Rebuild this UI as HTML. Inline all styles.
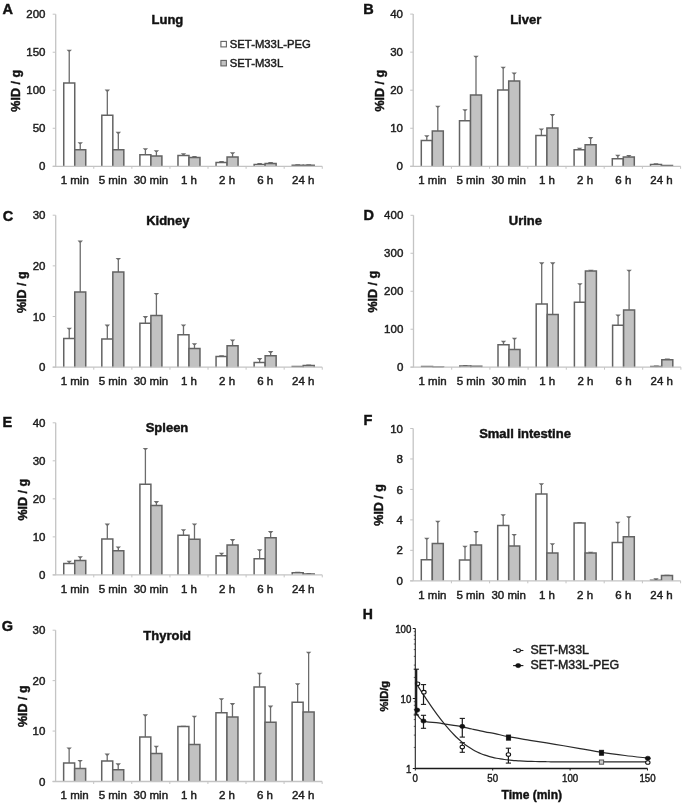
<!DOCTYPE html>
<html><head><meta charset="utf-8"><title>Biodistribution</title>
<style>
html,body{margin:0;padding:0;background:#fff;}
body{width:685px;height:806px;overflow:hidden;}
svg{display:block;font-family:"Liberation Sans", sans-serif;will-change:transform;}
text{stroke:#1c1c1c;stroke-width:0.45px;paint-order:stroke;}
</style></head>
<body>
<svg width="685" height="806" viewBox="0 0 685 806">
<rect width="685" height="806" fill="#fff"/>
<text x="2.4" y="14.2" font-size="14.5" font-weight="bold" fill="#111">A</text>
<text x="167.4" y="23.9" font-size="13" font-weight="bold" text-anchor="middle" fill="#111">Lung</text>
<text transform="translate(20,90.8) rotate(-90)" font-size="12.5" font-weight="bold" text-anchor="middle" fill="#111">%ID / g</text>
<line x1="52.7" y1="166.3" x2="55.7" y2="166.3" stroke="#c4c4c4" stroke-width="1"/>
<text x="45.5" y="170.4" font-size="11.5" text-anchor="end" fill="#1c1c1c">0</text>
<line x1="52.7" y1="128.28" x2="55.7" y2="128.28" stroke="#c4c4c4" stroke-width="1"/>
<text x="45.5" y="132.38" font-size="11.5" text-anchor="end" fill="#1c1c1c">50</text>
<line x1="52.7" y1="90.25" x2="55.7" y2="90.25" stroke="#c4c4c4" stroke-width="1"/>
<text x="45.5" y="94.35" font-size="11.5" text-anchor="end" fill="#1c1c1c">100</text>
<line x1="52.7" y1="52.22" x2="55.7" y2="52.22" stroke="#c4c4c4" stroke-width="1"/>
<text x="45.5" y="56.32" font-size="11.5" text-anchor="end" fill="#1c1c1c">150</text>
<line x1="52.7" y1="14.2" x2="55.7" y2="14.2" stroke="#c4c4c4" stroke-width="1"/>
<text x="45.5" y="18.3" font-size="11.5" text-anchor="end" fill="#1c1c1c">200</text>
<line x1="69.24" y1="50.4" x2="69.24" y2="83" stroke="#6c6c6c" stroke-width="1.3"/>
<path d="M66.54,49.65H71.94L70.14,51.5H68.34Z" fill="#6c6c6c"/>
<line x1="80.24" y1="142.9" x2="80.24" y2="149.7" stroke="#6c6c6c" stroke-width="1.3"/>
<path d="M77.54,142.15H82.94L81.14,144H79.34Z" fill="#6c6c6c"/>
<path d="M63.74,166.3V83H74.74V166.3" fill="#fff" stroke="#636363" stroke-width="1.5"/>
<path d="M74.74,166.3V149.7H85.74V166.3" fill="#c2c2c2" stroke="#636363" stroke-width="1.5"/>
<text x="74.74" y="184.2" font-size="11.5" text-anchor="middle" fill="#1c1c1c">1 min</text>
<line x1="107.32" y1="90.3" x2="107.32" y2="115.2" stroke="#6c6c6c" stroke-width="1.3"/>
<path d="M104.62,89.55H110.02L108.22,91.4H106.42Z" fill="#6c6c6c"/>
<line x1="118.32" y1="132.6" x2="118.32" y2="149.7" stroke="#6c6c6c" stroke-width="1.3"/>
<path d="M115.62,131.85H121.02L119.22,133.7H117.42Z" fill="#6c6c6c"/>
<path d="M101.82,166.3V115.2H112.82V166.3" fill="#fff" stroke="#636363" stroke-width="1.5"/>
<path d="M112.82,166.3V149.7H123.82V166.3" fill="#c2c2c2" stroke="#636363" stroke-width="1.5"/>
<text x="112.82" y="184.2" font-size="11.5" text-anchor="middle" fill="#1c1c1c">5 min</text>
<line x1="145.4" y1="149" x2="145.4" y2="154.8" stroke="#6c6c6c" stroke-width="1.3"/>
<path d="M142.7,148.25H148.1L146.3,150.1H144.5Z" fill="#6c6c6c"/>
<line x1="156.4" y1="151" x2="156.4" y2="156" stroke="#6c6c6c" stroke-width="1.3"/>
<path d="M153.7,150.25H159.1L157.3,152.1H155.5Z" fill="#6c6c6c"/>
<path d="M139.9,166.3V154.8H150.9V166.3" fill="#fff" stroke="#636363" stroke-width="1.5"/>
<path d="M150.9,166.3V156H161.9V166.3" fill="#c2c2c2" stroke="#636363" stroke-width="1.5"/>
<text x="150.9" y="184.2" font-size="11.5" text-anchor="middle" fill="#1c1c1c">30 min</text>
<line x1="183.48" y1="153.9" x2="183.48" y2="155.6" stroke="#6c6c6c" stroke-width="1.3"/>
<path d="M180.78,153.15H186.18L184.38,155H182.58Z" fill="#6c6c6c"/>
<line x1="194.48" y1="156.7" x2="194.48" y2="157.6" stroke="#6c6c6c" stroke-width="1.3"/>
<path d="M191.78,155.95H197.18L195.38,157.8H193.58Z" fill="#6c6c6c"/>
<path d="M177.98,166.3V155.6H188.98V166.3" fill="#fff" stroke="#636363" stroke-width="1.5"/>
<path d="M188.98,166.3V157.6H199.98V166.3" fill="#c2c2c2" stroke="#636363" stroke-width="1.5"/>
<text x="188.98" y="184.2" font-size="11.5" text-anchor="middle" fill="#1c1c1c">1 h</text>
<line x1="221.56" y1="161.8" x2="221.56" y2="162.5" stroke="#6c6c6c" stroke-width="1.3"/>
<path d="M218.86,161.05H224.26L222.46,162.9H220.66Z" fill="#6c6c6c"/>
<line x1="232.56" y1="153" x2="232.56" y2="157" stroke="#6c6c6c" stroke-width="1.3"/>
<path d="M229.86,152.25H235.26L233.46,154.1H231.66Z" fill="#6c6c6c"/>
<path d="M216.06,166.3V162.5H227.06V166.3" fill="#fff" stroke="#636363" stroke-width="1.5"/>
<path d="M227.06,166.3V157H238.06V166.3" fill="#c2c2c2" stroke="#636363" stroke-width="1.5"/>
<text x="227.06" y="184.2" font-size="11.5" text-anchor="middle" fill="#1c1c1c">2 h</text>
<line x1="259.64" y1="163.8" x2="259.64" y2="164.5" stroke="#6c6c6c" stroke-width="1.3"/>
<path d="M256.94,163.05H262.34L260.54,164.9H258.74Z" fill="#6c6c6c"/>
<line x1="270.64" y1="162.8" x2="270.64" y2="163.5" stroke="#6c6c6c" stroke-width="1.3"/>
<path d="M267.94,162.05H273.34L271.54,163.9H269.74Z" fill="#6c6c6c"/>
<path d="M254.14,166.3V164.5H265.14V166.3" fill="#fff" stroke="#636363" stroke-width="1.5"/>
<path d="M265.14,166.3V163.5H276.14V166.3" fill="#c2c2c2" stroke="#636363" stroke-width="1.5"/>
<text x="265.14" y="184.2" font-size="11.5" text-anchor="middle" fill="#1c1c1c">6 h</text>
<line x1="297.72" y1="165.1" x2="297.72" y2="165.2" stroke="#6c6c6c" stroke-width="1.3"/>
<path d="M295.02,164.35H300.42L298.62,166.2H296.82Z" fill="#6c6c6c"/>
<line x1="308.72" y1="165.1" x2="308.72" y2="165.2" stroke="#6c6c6c" stroke-width="1.3"/>
<path d="M306.02,164.35H311.42L309.62,166.2H307.82Z" fill="#6c6c6c"/>
<path d="M292.22,166.3V165.2H303.22V166.3" fill="#fff" stroke="#636363" stroke-width="1.5"/>
<path d="M303.22,166.3V165.2H314.22V166.3" fill="#c2c2c2" stroke="#636363" stroke-width="1.5"/>
<text x="303.22" y="184.2" font-size="11.5" text-anchor="middle" fill="#1c1c1c">24 h</text>
<line x1="55.7" y1="14.2" x2="55.7" y2="166.3" stroke="#c4c4c4" stroke-width="1.3"/>
<line x1="52.7" y1="166.3" x2="322.26" y2="166.3" stroke="#c4c4c4" stroke-width="1.3"/>
<line x1="93.78" y1="166.3" x2="93.78" y2="168.8" stroke="#c4c4c4" stroke-width="1"/>
<line x1="131.86" y1="166.3" x2="131.86" y2="168.8" stroke="#c4c4c4" stroke-width="1"/>
<line x1="169.94" y1="166.3" x2="169.94" y2="168.8" stroke="#c4c4c4" stroke-width="1"/>
<line x1="208.02" y1="166.3" x2="208.02" y2="168.8" stroke="#c4c4c4" stroke-width="1"/>
<line x1="246.1" y1="166.3" x2="246.1" y2="168.8" stroke="#c4c4c4" stroke-width="1"/>
<line x1="284.18" y1="166.3" x2="284.18" y2="168.8" stroke="#c4c4c4" stroke-width="1"/>
<line x1="322.26" y1="166.3" x2="322.26" y2="168.8" stroke="#c4c4c4" stroke-width="1"/>
<text x="363.3" y="14" font-size="14.5" font-weight="bold" fill="#111">B</text>
<text x="525.7" y="23.7" font-size="13" font-weight="bold" text-anchor="middle" fill="#111">Liver</text>
<text transform="translate(383.8,90.7) rotate(-90)" font-size="12.5" font-weight="bold" text-anchor="middle" fill="#111">%ID / g</text>
<line x1="410.2" y1="166.3" x2="413.2" y2="166.3" stroke="#c4c4c4" stroke-width="1"/>
<text x="403" y="170.4" font-size="11.5" text-anchor="end" fill="#1c1c1c">0</text>
<line x1="410.2" y1="128.25" x2="413.2" y2="128.25" stroke="#c4c4c4" stroke-width="1"/>
<text x="403" y="132.35" font-size="11.5" text-anchor="end" fill="#1c1c1c">10</text>
<line x1="410.2" y1="90.2" x2="413.2" y2="90.2" stroke="#c4c4c4" stroke-width="1"/>
<text x="403" y="94.3" font-size="11.5" text-anchor="end" fill="#1c1c1c">20</text>
<line x1="410.2" y1="52.15" x2="413.2" y2="52.15" stroke="#c4c4c4" stroke-width="1"/>
<text x="403" y="56.25" font-size="11.5" text-anchor="end" fill="#1c1c1c">30</text>
<line x1="410.2" y1="14.1" x2="413.2" y2="14.1" stroke="#c4c4c4" stroke-width="1"/>
<text x="403" y="18.2" font-size="11.5" text-anchor="end" fill="#1c1c1c">40</text>
<line x1="426.8" y1="135.9" x2="426.8" y2="140.5" stroke="#6c6c6c" stroke-width="1.3"/>
<path d="M424.1,135.15H429.5L427.7,137H425.9Z" fill="#6c6c6c"/>
<line x1="437.8" y1="106.5" x2="437.8" y2="130.9" stroke="#6c6c6c" stroke-width="1.3"/>
<path d="M435.1,105.75H440.5L438.7,107.6H436.9Z" fill="#6c6c6c"/>
<path d="M421.3,166.3V140.5H432.3V166.3" fill="#fff" stroke="#636363" stroke-width="1.5"/>
<path d="M432.3,166.3V130.9H443.3V166.3" fill="#c2c2c2" stroke="#636363" stroke-width="1.5"/>
<text x="432.3" y="184.2" font-size="11.5" text-anchor="middle" fill="#1c1c1c">1 min</text>
<line x1="465" y1="110" x2="465" y2="120.7" stroke="#6c6c6c" stroke-width="1.3"/>
<path d="M462.3,109.25H467.7L465.9,111.1H464.1Z" fill="#6c6c6c"/>
<line x1="476" y1="56.4" x2="476" y2="95" stroke="#6c6c6c" stroke-width="1.3"/>
<path d="M473.3,55.65H478.7L476.9,57.5H475.1Z" fill="#6c6c6c"/>
<path d="M459.5,166.3V120.7H470.5V166.3" fill="#fff" stroke="#636363" stroke-width="1.5"/>
<path d="M470.5,166.3V95H481.5V166.3" fill="#c2c2c2" stroke="#636363" stroke-width="1.5"/>
<text x="470.5" y="184.2" font-size="11.5" text-anchor="middle" fill="#1c1c1c">5 min</text>
<line x1="503.2" y1="67.5" x2="503.2" y2="89.9" stroke="#6c6c6c" stroke-width="1.3"/>
<path d="M500.5,66.75H505.9L504.1,68.6H502.3Z" fill="#6c6c6c"/>
<line x1="514.2" y1="73.2" x2="514.2" y2="80.9" stroke="#6c6c6c" stroke-width="1.3"/>
<path d="M511.5,72.45H516.9L515.1,74.3H513.3Z" fill="#6c6c6c"/>
<path d="M497.7,166.3V89.9H508.7V166.3" fill="#fff" stroke="#636363" stroke-width="1.5"/>
<path d="M508.7,166.3V80.9H519.7V166.3" fill="#c2c2c2" stroke="#636363" stroke-width="1.5"/>
<text x="508.7" y="184.2" font-size="11.5" text-anchor="middle" fill="#1c1c1c">30 min</text>
<line x1="541.4" y1="129.2" x2="541.4" y2="135.5" stroke="#6c6c6c" stroke-width="1.3"/>
<path d="M538.7,128.45H544.1L542.3,130.3H540.5Z" fill="#6c6c6c"/>
<line x1="552.4" y1="114.8" x2="552.4" y2="128" stroke="#6c6c6c" stroke-width="1.3"/>
<path d="M549.7,114.05H555.1L553.3,115.9H551.5Z" fill="#6c6c6c"/>
<path d="M535.9,166.3V135.5H546.9V166.3" fill="#fff" stroke="#636363" stroke-width="1.5"/>
<path d="M546.9,166.3V128H557.9V166.3" fill="#c2c2c2" stroke="#636363" stroke-width="1.5"/>
<text x="546.9" y="184.2" font-size="11.5" text-anchor="middle" fill="#1c1c1c">1 h</text>
<line x1="579.6" y1="148.5" x2="579.6" y2="149.7" stroke="#6c6c6c" stroke-width="1.3"/>
<path d="M576.9,147.75H582.3L580.5,149.6H578.7Z" fill="#6c6c6c"/>
<line x1="590.6" y1="137.8" x2="590.6" y2="144.8" stroke="#6c6c6c" stroke-width="1.3"/>
<path d="M587.9,137.05H593.3L591.5,138.9H589.7Z" fill="#6c6c6c"/>
<path d="M574.1,166.3V149.7H585.1V166.3" fill="#fff" stroke="#636363" stroke-width="1.5"/>
<path d="M585.1,166.3V144.8H596.1V166.3" fill="#c2c2c2" stroke="#636363" stroke-width="1.5"/>
<text x="585.1" y="184.2" font-size="11.5" text-anchor="middle" fill="#1c1c1c">2 h</text>
<line x1="617.8" y1="155.5" x2="617.8" y2="158.8" stroke="#6c6c6c" stroke-width="1.3"/>
<path d="M615.1,154.75H620.5L618.7,156.6H616.9Z" fill="#6c6c6c"/>
<line x1="628.8" y1="155.7" x2="628.8" y2="157" stroke="#6c6c6c" stroke-width="1.3"/>
<path d="M626.1,154.95H631.5L629.7,156.8H627.9Z" fill="#6c6c6c"/>
<path d="M612.3,166.3V158.8H623.3V166.3" fill="#fff" stroke="#636363" stroke-width="1.5"/>
<path d="M623.3,166.3V157H634.3V166.3" fill="#c2c2c2" stroke="#636363" stroke-width="1.5"/>
<text x="623.3" y="184.2" font-size="11.5" text-anchor="middle" fill="#1c1c1c">6 h</text>
<line x1="656" y1="164" x2="656" y2="164.4" stroke="#6c6c6c" stroke-width="1.3"/>
<path d="M653.3,163.25H658.7L656.9,165.1H655.1Z" fill="#6c6c6c"/>
<path d="M650.5,166.3V164.4H661.5V166.3" fill="#fff" stroke="#636363" stroke-width="1.5"/>
<path d="M661.5,166.3V165.4H672.5V166.3" fill="#c2c2c2" stroke="#636363" stroke-width="1.5"/>
<text x="661.5" y="184.2" font-size="11.5" text-anchor="middle" fill="#1c1c1c">24 h</text>
<line x1="413.2" y1="14.1" x2="413.2" y2="166.3" stroke="#c4c4c4" stroke-width="1.3"/>
<line x1="410.2" y1="166.3" x2="680.6" y2="166.3" stroke="#c4c4c4" stroke-width="1.3"/>
<line x1="451.4" y1="166.3" x2="451.4" y2="168.8" stroke="#c4c4c4" stroke-width="1"/>
<line x1="489.6" y1="166.3" x2="489.6" y2="168.8" stroke="#c4c4c4" stroke-width="1"/>
<line x1="527.8" y1="166.3" x2="527.8" y2="168.8" stroke="#c4c4c4" stroke-width="1"/>
<line x1="566" y1="166.3" x2="566" y2="168.8" stroke="#c4c4c4" stroke-width="1"/>
<line x1="604.2" y1="166.3" x2="604.2" y2="168.8" stroke="#c4c4c4" stroke-width="1"/>
<line x1="642.4" y1="166.3" x2="642.4" y2="168.8" stroke="#c4c4c4" stroke-width="1"/>
<line x1="680.6" y1="166.3" x2="680.6" y2="168.8" stroke="#c4c4c4" stroke-width="1"/>
<text x="2.8" y="220.7" font-size="14.5" font-weight="bold" fill="#111">C</text>
<text x="167.8" y="225.1" font-size="13" font-weight="bold" text-anchor="middle" fill="#111">Kidney</text>
<text transform="translate(26.3,292.2) rotate(-90)" font-size="12.5" font-weight="bold" text-anchor="middle" fill="#111">%ID / g</text>
<line x1="52.7" y1="367.2" x2="55.7" y2="367.2" stroke="#c4c4c4" stroke-width="1"/>
<text x="45.5" y="371.3" font-size="11.5" text-anchor="end" fill="#1c1c1c">0</text>
<line x1="52.7" y1="316.53" x2="55.7" y2="316.53" stroke="#c4c4c4" stroke-width="1"/>
<text x="45.5" y="320.63" font-size="11.5" text-anchor="end" fill="#1c1c1c">10</text>
<line x1="52.7" y1="265.87" x2="55.7" y2="265.87" stroke="#c4c4c4" stroke-width="1"/>
<text x="45.5" y="269.97" font-size="11.5" text-anchor="end" fill="#1c1c1c">20</text>
<line x1="52.7" y1="215.2" x2="55.7" y2="215.2" stroke="#c4c4c4" stroke-width="1"/>
<text x="45.5" y="219.3" font-size="11.5" text-anchor="end" fill="#1c1c1c">30</text>
<line x1="69.24" y1="328.4" x2="69.24" y2="338.5" stroke="#6c6c6c" stroke-width="1.3"/>
<path d="M66.54,327.65H71.94L70.14,329.5H68.34Z" fill="#6c6c6c"/>
<line x1="80.24" y1="241.3" x2="80.24" y2="291.9" stroke="#6c6c6c" stroke-width="1.3"/>
<path d="M77.54,240.55H82.94L81.14,242.4H79.34Z" fill="#6c6c6c"/>
<path d="M63.74,367.2V338.5H74.74V367.2" fill="#fff" stroke="#636363" stroke-width="1.5"/>
<path d="M74.74,367.2V291.9H85.74V367.2" fill="#c2c2c2" stroke="#636363" stroke-width="1.5"/>
<text x="74.74" y="385.1" font-size="11.5" text-anchor="middle" fill="#1c1c1c">1 min</text>
<line x1="107.32" y1="325.3" x2="107.32" y2="338.9" stroke="#6c6c6c" stroke-width="1.3"/>
<path d="M104.62,324.55H110.02L108.22,326.4H106.42Z" fill="#6c6c6c"/>
<line x1="118.32" y1="258.7" x2="118.32" y2="271.9" stroke="#6c6c6c" stroke-width="1.3"/>
<path d="M115.62,257.95H121.02L119.22,259.8H117.42Z" fill="#6c6c6c"/>
<path d="M101.82,367.2V338.9H112.82V367.2" fill="#fff" stroke="#636363" stroke-width="1.5"/>
<path d="M112.82,367.2V271.9H123.82V367.2" fill="#c2c2c2" stroke="#636363" stroke-width="1.5"/>
<text x="112.82" y="385.1" font-size="11.5" text-anchor="middle" fill="#1c1c1c">5 min</text>
<line x1="145.4" y1="316.8" x2="145.4" y2="323.2" stroke="#6c6c6c" stroke-width="1.3"/>
<path d="M142.7,316.05H148.1L146.3,317.9H144.5Z" fill="#6c6c6c"/>
<line x1="156.4" y1="293.7" x2="156.4" y2="315.4" stroke="#6c6c6c" stroke-width="1.3"/>
<path d="M153.7,292.95H159.1L157.3,294.8H155.5Z" fill="#6c6c6c"/>
<path d="M139.9,367.2V323.2H150.9V367.2" fill="#fff" stroke="#636363" stroke-width="1.5"/>
<path d="M150.9,367.2V315.4H161.9V367.2" fill="#c2c2c2" stroke="#636363" stroke-width="1.5"/>
<text x="150.9" y="385.1" font-size="11.5" text-anchor="middle" fill="#1c1c1c">30 min</text>
<line x1="183.48" y1="325.2" x2="183.48" y2="334.7" stroke="#6c6c6c" stroke-width="1.3"/>
<path d="M180.78,324.45H186.18L184.38,326.3H182.58Z" fill="#6c6c6c"/>
<line x1="194.48" y1="343.9" x2="194.48" y2="348.6" stroke="#6c6c6c" stroke-width="1.3"/>
<path d="M191.78,343.15H197.18L195.38,345H193.58Z" fill="#6c6c6c"/>
<path d="M177.98,367.2V334.7H188.98V367.2" fill="#fff" stroke="#636363" stroke-width="1.5"/>
<path d="M188.98,367.2V348.6H199.98V367.2" fill="#c2c2c2" stroke="#636363" stroke-width="1.5"/>
<text x="188.98" y="385.1" font-size="11.5" text-anchor="middle" fill="#1c1c1c">1 h</text>
<line x1="221.56" y1="356" x2="221.56" y2="356.5" stroke="#6c6c6c" stroke-width="1.3"/>
<path d="M218.86,355.25H224.26L222.46,357.1H220.66Z" fill="#6c6c6c"/>
<line x1="232.56" y1="340.2" x2="232.56" y2="345.7" stroke="#6c6c6c" stroke-width="1.3"/>
<path d="M229.86,339.45H235.26L233.46,341.3H231.66Z" fill="#6c6c6c"/>
<path d="M216.06,367.2V356.5H227.06V367.2" fill="#fff" stroke="#636363" stroke-width="1.5"/>
<path d="M227.06,367.2V345.7H238.06V367.2" fill="#c2c2c2" stroke="#636363" stroke-width="1.5"/>
<text x="227.06" y="385.1" font-size="11.5" text-anchor="middle" fill="#1c1c1c">2 h</text>
<line x1="259.64" y1="358.8" x2="259.64" y2="362.5" stroke="#6c6c6c" stroke-width="1.3"/>
<path d="M256.94,358.05H262.34L260.54,359.9H258.74Z" fill="#6c6c6c"/>
<line x1="270.64" y1="351.8" x2="270.64" y2="355.8" stroke="#6c6c6c" stroke-width="1.3"/>
<path d="M267.94,351.05H273.34L271.54,352.9H269.74Z" fill="#6c6c6c"/>
<path d="M254.14,367.2V362.5H265.14V367.2" fill="#fff" stroke="#636363" stroke-width="1.5"/>
<path d="M265.14,367.2V355.8H276.14V367.2" fill="#c2c2c2" stroke="#636363" stroke-width="1.5"/>
<text x="265.14" y="385.1" font-size="11.5" text-anchor="middle" fill="#1c1c1c">6 h</text>
<line x1="308.72" y1="365.2" x2="308.72" y2="365.4" stroke="#6c6c6c" stroke-width="1.3"/>
<path d="M306.02,364.45H311.42L309.62,366.3H307.82Z" fill="#6c6c6c"/>
<path d="M292.22,367.2V366.6H303.22V367.2" fill="#fff" stroke="#636363" stroke-width="1.5"/>
<path d="M303.22,367.2V365.4H314.22V367.2" fill="#c2c2c2" stroke="#636363" stroke-width="1.5"/>
<text x="303.22" y="385.1" font-size="11.5" text-anchor="middle" fill="#1c1c1c">24 h</text>
<line x1="55.7" y1="215.2" x2="55.7" y2="367.2" stroke="#c4c4c4" stroke-width="1.3"/>
<line x1="52.7" y1="367.2" x2="322.26" y2="367.2" stroke="#c4c4c4" stroke-width="1.3"/>
<line x1="93.78" y1="367.2" x2="93.78" y2="369.7" stroke="#c4c4c4" stroke-width="1"/>
<line x1="131.86" y1="367.2" x2="131.86" y2="369.7" stroke="#c4c4c4" stroke-width="1"/>
<line x1="169.94" y1="367.2" x2="169.94" y2="369.7" stroke="#c4c4c4" stroke-width="1"/>
<line x1="208.02" y1="367.2" x2="208.02" y2="369.7" stroke="#c4c4c4" stroke-width="1"/>
<line x1="246.1" y1="367.2" x2="246.1" y2="369.7" stroke="#c4c4c4" stroke-width="1"/>
<line x1="284.18" y1="367.2" x2="284.18" y2="369.7" stroke="#c4c4c4" stroke-width="1"/>
<line x1="322.26" y1="367.2" x2="322.26" y2="369.7" stroke="#c4c4c4" stroke-width="1"/>
<text x="363.6" y="220.4" font-size="14.5" font-weight="bold" fill="#111">D</text>
<text x="525.4" y="224.9" font-size="13" font-weight="bold" text-anchor="middle" fill="#111">Urine</text>
<text transform="translate(377.3,291.7) rotate(-90)" font-size="12.5" font-weight="bold" text-anchor="middle" fill="#111">%ID / g</text>
<line x1="410.5" y1="367.2" x2="413.5" y2="367.2" stroke="#c4c4c4" stroke-width="1"/>
<text x="403.3" y="371.3" font-size="11.5" text-anchor="end" fill="#1c1c1c">0</text>
<line x1="410.5" y1="329.23" x2="413.5" y2="329.23" stroke="#c4c4c4" stroke-width="1"/>
<text x="403.3" y="333.33" font-size="11.5" text-anchor="end" fill="#1c1c1c">100</text>
<line x1="410.5" y1="291.25" x2="413.5" y2="291.25" stroke="#c4c4c4" stroke-width="1"/>
<text x="403.3" y="295.35" font-size="11.5" text-anchor="end" fill="#1c1c1c">200</text>
<line x1="410.5" y1="253.28" x2="413.5" y2="253.28" stroke="#c4c4c4" stroke-width="1"/>
<text x="403.3" y="257.38" font-size="11.5" text-anchor="end" fill="#1c1c1c">300</text>
<line x1="410.5" y1="215.3" x2="413.5" y2="215.3" stroke="#c4c4c4" stroke-width="1"/>
<text x="403.3" y="219.4" font-size="11.5" text-anchor="end" fill="#1c1c1c">400</text>
<path d="M421.6,367.2V366.6H432.6V367.2" fill="#fff" stroke="#636363" stroke-width="1.5"/>
<path d="M432.6,367.2V366.9H443.6V367.2" fill="#c2c2c2" stroke="#636363" stroke-width="1.5"/>
<text x="432.6" y="385.1" font-size="11.5" text-anchor="middle" fill="#1c1c1c">1 min</text>
<line x1="465.3" y1="365.7" x2="465.3" y2="365.9" stroke="#6c6c6c" stroke-width="1.3"/>
<path d="M462.6,364.95H468L466.2,366.8H464.4Z" fill="#6c6c6c"/>
<path d="M459.8,367.2V365.9H470.8V367.2" fill="#fff" stroke="#636363" stroke-width="1.5"/>
<path d="M470.8,367.2V366.2H481.8V367.2" fill="#c2c2c2" stroke="#636363" stroke-width="1.5"/>
<text x="470.8" y="385.1" font-size="11.5" text-anchor="middle" fill="#1c1c1c">5 min</text>
<line x1="503.5" y1="341.4" x2="503.5" y2="344.8" stroke="#6c6c6c" stroke-width="1.3"/>
<path d="M500.8,340.65H506.2L504.4,342.5H502.6Z" fill="#6c6c6c"/>
<line x1="514.5" y1="338.4" x2="514.5" y2="349.5" stroke="#6c6c6c" stroke-width="1.3"/>
<path d="M511.8,337.65H517.2L515.4,339.5H513.6Z" fill="#6c6c6c"/>
<path d="M498,367.2V344.8H509V367.2" fill="#fff" stroke="#636363" stroke-width="1.5"/>
<path d="M509,367.2V349.5H520V367.2" fill="#c2c2c2" stroke="#636363" stroke-width="1.5"/>
<text x="509" y="385.1" font-size="11.5" text-anchor="middle" fill="#1c1c1c">30 min</text>
<line x1="541.7" y1="263.1" x2="541.7" y2="304.1" stroke="#6c6c6c" stroke-width="1.3"/>
<path d="M539,262.35H544.4L542.6,264.2H540.8Z" fill="#6c6c6c"/>
<line x1="552.7" y1="263.1" x2="552.7" y2="314.4" stroke="#6c6c6c" stroke-width="1.3"/>
<path d="M550,262.35H555.4L553.6,264.2H551.8Z" fill="#6c6c6c"/>
<path d="M536.2,367.2V304.1H547.2V367.2" fill="#fff" stroke="#636363" stroke-width="1.5"/>
<path d="M547.2,367.2V314.4H558.2V367.2" fill="#c2c2c2" stroke="#636363" stroke-width="1.5"/>
<text x="547.2" y="385.1" font-size="11.5" text-anchor="middle" fill="#1c1c1c">1 h</text>
<line x1="579.9" y1="283.9" x2="579.9" y2="302.2" stroke="#6c6c6c" stroke-width="1.3"/>
<path d="M577.2,283.15H582.6L580.8,285H579Z" fill="#6c6c6c"/>
<line x1="590.9" y1="270.4" x2="590.9" y2="270.9" stroke="#6c6c6c" stroke-width="1.3"/>
<path d="M588.2,269.65H593.6L591.8,271.5H590Z" fill="#6c6c6c"/>
<path d="M574.4,367.2V302.2H585.4V367.2" fill="#fff" stroke="#636363" stroke-width="1.5"/>
<path d="M585.4,367.2V270.9H596.4V367.2" fill="#c2c2c2" stroke="#636363" stroke-width="1.5"/>
<text x="585.4" y="385.1" font-size="11.5" text-anchor="middle" fill="#1c1c1c">2 h</text>
<line x1="618.1" y1="315.2" x2="618.1" y2="325.3" stroke="#6c6c6c" stroke-width="1.3"/>
<path d="M615.4,314.45H620.8L619,316.3H617.2Z" fill="#6c6c6c"/>
<line x1="629.1" y1="270.4" x2="629.1" y2="309.9" stroke="#6c6c6c" stroke-width="1.3"/>
<path d="M626.4,269.65H631.8L630,271.5H628.2Z" fill="#6c6c6c"/>
<path d="M612.6,367.2V325.3H623.6V367.2" fill="#fff" stroke="#636363" stroke-width="1.5"/>
<path d="M623.6,367.2V309.9H634.6V367.2" fill="#c2c2c2" stroke="#636363" stroke-width="1.5"/>
<text x="623.6" y="385.1" font-size="11.5" text-anchor="middle" fill="#1c1c1c">6 h</text>
<line x1="656.3" y1="366.2" x2="656.3" y2="366.4" stroke="#6c6c6c" stroke-width="1.3"/>
<path d="M653.6,365.45H659L657.2,367.3H655.4Z" fill="#6c6c6c"/>
<line x1="667.3" y1="359.3" x2="667.3" y2="359.7" stroke="#6c6c6c" stroke-width="1.3"/>
<path d="M664.6,358.55H670L668.2,360.4H666.4Z" fill="#6c6c6c"/>
<path d="M650.8,367.2V366.4H661.8V367.2" fill="#fff" stroke="#636363" stroke-width="1.5"/>
<path d="M661.8,367.2V359.7H672.8V367.2" fill="#c2c2c2" stroke="#636363" stroke-width="1.5"/>
<text x="661.8" y="385.1" font-size="11.5" text-anchor="middle" fill="#1c1c1c">24 h</text>
<line x1="413.5" y1="215.3" x2="413.5" y2="367.2" stroke="#c4c4c4" stroke-width="1.3"/>
<line x1="410.5" y1="367.2" x2="680.9" y2="367.2" stroke="#c4c4c4" stroke-width="1.3"/>
<line x1="451.7" y1="367.2" x2="451.7" y2="369.7" stroke="#c4c4c4" stroke-width="1"/>
<line x1="489.9" y1="367.2" x2="489.9" y2="369.7" stroke="#c4c4c4" stroke-width="1"/>
<line x1="528.1" y1="367.2" x2="528.1" y2="369.7" stroke="#c4c4c4" stroke-width="1"/>
<line x1="566.3" y1="367.2" x2="566.3" y2="369.7" stroke="#c4c4c4" stroke-width="1"/>
<line x1="604.5" y1="367.2" x2="604.5" y2="369.7" stroke="#c4c4c4" stroke-width="1"/>
<line x1="642.7" y1="367.2" x2="642.7" y2="369.7" stroke="#c4c4c4" stroke-width="1"/>
<line x1="680.9" y1="367.2" x2="680.9" y2="369.7" stroke="#c4c4c4" stroke-width="1"/>
<text x="2.4" y="427" font-size="14.5" font-weight="bold" fill="#111">E</text>
<text x="167" y="432.2" font-size="13" font-weight="bold" text-anchor="middle" fill="#111">Spleen</text>
<text transform="translate(26.6,499.7) rotate(-90)" font-size="12.5" font-weight="bold" text-anchor="middle" fill="#111">%ID / g</text>
<line x1="52.7" y1="574.9" x2="55.7" y2="574.9" stroke="#c4c4c4" stroke-width="1"/>
<text x="45.5" y="579" font-size="11.5" text-anchor="end" fill="#1c1c1c">0</text>
<line x1="52.7" y1="536.88" x2="55.7" y2="536.88" stroke="#c4c4c4" stroke-width="1"/>
<text x="45.5" y="540.98" font-size="11.5" text-anchor="end" fill="#1c1c1c">10</text>
<line x1="52.7" y1="498.85" x2="55.7" y2="498.85" stroke="#c4c4c4" stroke-width="1"/>
<text x="45.5" y="502.95" font-size="11.5" text-anchor="end" fill="#1c1c1c">20</text>
<line x1="52.7" y1="460.82" x2="55.7" y2="460.82" stroke="#c4c4c4" stroke-width="1"/>
<text x="45.5" y="464.93" font-size="11.5" text-anchor="end" fill="#1c1c1c">30</text>
<line x1="52.7" y1="422.8" x2="55.7" y2="422.8" stroke="#c4c4c4" stroke-width="1"/>
<text x="45.5" y="426.9" font-size="11.5" text-anchor="end" fill="#1c1c1c">40</text>
<line x1="69.24" y1="561.5" x2="69.24" y2="563.6" stroke="#6c6c6c" stroke-width="1.3"/>
<path d="M66.54,560.75H71.94L70.14,562.6H68.34Z" fill="#6c6c6c"/>
<line x1="80.24" y1="557" x2="80.24" y2="560.4" stroke="#6c6c6c" stroke-width="1.3"/>
<path d="M77.54,556.25H82.94L81.14,558.1H79.34Z" fill="#6c6c6c"/>
<path d="M63.74,574.9V563.6H74.74V574.9" fill="#fff" stroke="#636363" stroke-width="1.5"/>
<path d="M74.74,574.9V560.4H85.74V574.9" fill="#c2c2c2" stroke="#636363" stroke-width="1.5"/>
<text x="74.74" y="592.8" font-size="11.5" text-anchor="middle" fill="#1c1c1c">1 min</text>
<line x1="107.32" y1="524.3" x2="107.32" y2="538.9" stroke="#6c6c6c" stroke-width="1.3"/>
<path d="M104.62,523.55H110.02L108.22,525.4H106.42Z" fill="#6c6c6c"/>
<line x1="118.32" y1="547.2" x2="118.32" y2="550.8" stroke="#6c6c6c" stroke-width="1.3"/>
<path d="M115.62,546.45H121.02L119.22,548.3H117.42Z" fill="#6c6c6c"/>
<path d="M101.82,574.9V538.9H112.82V574.9" fill="#fff" stroke="#636363" stroke-width="1.5"/>
<path d="M112.82,574.9V550.8H123.82V574.9" fill="#c2c2c2" stroke="#636363" stroke-width="1.5"/>
<text x="112.82" y="592.8" font-size="11.5" text-anchor="middle" fill="#1c1c1c">5 min</text>
<line x1="145.4" y1="448.7" x2="145.4" y2="484.3" stroke="#6c6c6c" stroke-width="1.3"/>
<path d="M142.7,447.95H148.1L146.3,449.8H144.5Z" fill="#6c6c6c"/>
<line x1="156.4" y1="501.8" x2="156.4" y2="505.4" stroke="#6c6c6c" stroke-width="1.3"/>
<path d="M153.7,501.05H159.1L157.3,502.9H155.5Z" fill="#6c6c6c"/>
<path d="M139.9,574.9V484.3H150.9V574.9" fill="#fff" stroke="#636363" stroke-width="1.5"/>
<path d="M150.9,574.9V505.4H161.9V574.9" fill="#c2c2c2" stroke="#636363" stroke-width="1.5"/>
<text x="150.9" y="592.8" font-size="11.5" text-anchor="middle" fill="#1c1c1c">30 min</text>
<line x1="183.48" y1="529.9" x2="183.48" y2="535.2" stroke="#6c6c6c" stroke-width="1.3"/>
<path d="M180.78,529.15H186.18L184.38,531H182.58Z" fill="#6c6c6c"/>
<line x1="194.48" y1="524.2" x2="194.48" y2="539.2" stroke="#6c6c6c" stroke-width="1.3"/>
<path d="M191.78,523.45H197.18L195.38,525.3H193.58Z" fill="#6c6c6c"/>
<path d="M177.98,574.9V535.2H188.98V574.9" fill="#fff" stroke="#636363" stroke-width="1.5"/>
<path d="M188.98,574.9V539.2H199.98V574.9" fill="#c2c2c2" stroke="#636363" stroke-width="1.5"/>
<text x="188.98" y="592.8" font-size="11.5" text-anchor="middle" fill="#1c1c1c">1 h</text>
<line x1="221.56" y1="553.5" x2="221.56" y2="555.8" stroke="#6c6c6c" stroke-width="1.3"/>
<path d="M218.86,552.75H224.26L222.46,554.6H220.66Z" fill="#6c6c6c"/>
<line x1="232.56" y1="539.8" x2="232.56" y2="545" stroke="#6c6c6c" stroke-width="1.3"/>
<path d="M229.86,539.05H235.26L233.46,540.9H231.66Z" fill="#6c6c6c"/>
<path d="M216.06,574.9V555.8H227.06V574.9" fill="#fff" stroke="#636363" stroke-width="1.5"/>
<path d="M227.06,574.9V545H238.06V574.9" fill="#c2c2c2" stroke="#636363" stroke-width="1.5"/>
<text x="227.06" y="592.8" font-size="11.5" text-anchor="middle" fill="#1c1c1c">2 h</text>
<line x1="259.64" y1="549.9" x2="259.64" y2="558.7" stroke="#6c6c6c" stroke-width="1.3"/>
<path d="M256.94,549.15H262.34L260.54,551H258.74Z" fill="#6c6c6c"/>
<line x1="270.64" y1="531.8" x2="270.64" y2="537.7" stroke="#6c6c6c" stroke-width="1.3"/>
<path d="M267.94,531.05H273.34L271.54,532.9H269.74Z" fill="#6c6c6c"/>
<path d="M254.14,574.9V558.7H265.14V574.9" fill="#fff" stroke="#636363" stroke-width="1.5"/>
<path d="M265.14,574.9V537.7H276.14V574.9" fill="#c2c2c2" stroke="#636363" stroke-width="1.5"/>
<text x="265.14" y="592.8" font-size="11.5" text-anchor="middle" fill="#1c1c1c">6 h</text>
<line x1="297.72" y1="572.5" x2="297.72" y2="572.7" stroke="#6c6c6c" stroke-width="1.3"/>
<path d="M295.02,571.75H300.42L298.62,573.6H296.82Z" fill="#6c6c6c"/>
<line x1="308.72" y1="573.7" x2="308.72" y2="573.9" stroke="#6c6c6c" stroke-width="1.3"/>
<path d="M306.02,572.95H311.42L309.62,574.8H307.82Z" fill="#6c6c6c"/>
<path d="M292.22,574.9V572.7H303.22V574.9" fill="#fff" stroke="#636363" stroke-width="1.5"/>
<path d="M303.22,574.9V573.9H314.22V574.9" fill="#c2c2c2" stroke="#636363" stroke-width="1.5"/>
<text x="303.22" y="592.8" font-size="11.5" text-anchor="middle" fill="#1c1c1c">24 h</text>
<line x1="55.7" y1="422.8" x2="55.7" y2="574.9" stroke="#c4c4c4" stroke-width="1.3"/>
<line x1="52.7" y1="574.9" x2="322.26" y2="574.9" stroke="#c4c4c4" stroke-width="1.3"/>
<line x1="93.78" y1="574.9" x2="93.78" y2="577.4" stroke="#c4c4c4" stroke-width="1"/>
<line x1="131.86" y1="574.9" x2="131.86" y2="577.4" stroke="#c4c4c4" stroke-width="1"/>
<line x1="169.94" y1="574.9" x2="169.94" y2="577.4" stroke="#c4c4c4" stroke-width="1"/>
<line x1="208.02" y1="574.9" x2="208.02" y2="577.4" stroke="#c4c4c4" stroke-width="1"/>
<line x1="246.1" y1="574.9" x2="246.1" y2="577.4" stroke="#c4c4c4" stroke-width="1"/>
<line x1="284.18" y1="574.9" x2="284.18" y2="577.4" stroke="#c4c4c4" stroke-width="1"/>
<line x1="322.26" y1="574.9" x2="322.26" y2="577.4" stroke="#c4c4c4" stroke-width="1"/>
<text x="363.4" y="424.6" font-size="14.5" font-weight="bold" fill="#111">F</text>
<text x="525" y="438.4" font-size="13" font-weight="bold" text-anchor="middle" fill="#111">Small intestine</text>
<text transform="translate(383.3,504.9) rotate(-90)" font-size="12.5" font-weight="bold" text-anchor="middle" fill="#111">%ID / g</text>
<line x1="410.2" y1="580.8" x2="413.2" y2="580.8" stroke="#c4c4c4" stroke-width="1"/>
<text x="403" y="584.9" font-size="11.5" text-anchor="end" fill="#1c1c1c">0</text>
<line x1="410.2" y1="550.34" x2="413.2" y2="550.34" stroke="#c4c4c4" stroke-width="1"/>
<text x="403" y="554.44" font-size="11.5" text-anchor="end" fill="#1c1c1c">2</text>
<line x1="410.2" y1="519.88" x2="413.2" y2="519.88" stroke="#c4c4c4" stroke-width="1"/>
<text x="403" y="523.98" font-size="11.5" text-anchor="end" fill="#1c1c1c">4</text>
<line x1="410.2" y1="489.42" x2="413.2" y2="489.42" stroke="#c4c4c4" stroke-width="1"/>
<text x="403" y="493.52" font-size="11.5" text-anchor="end" fill="#1c1c1c">6</text>
<line x1="410.2" y1="458.96" x2="413.2" y2="458.96" stroke="#c4c4c4" stroke-width="1"/>
<text x="403" y="463.06" font-size="11.5" text-anchor="end" fill="#1c1c1c">8</text>
<line x1="410.2" y1="428.5" x2="413.2" y2="428.5" stroke="#c4c4c4" stroke-width="1"/>
<text x="403" y="432.6" font-size="11.5" text-anchor="end" fill="#1c1c1c">10</text>
<line x1="426.8" y1="538.4" x2="426.8" y2="559.7" stroke="#6c6c6c" stroke-width="1.3"/>
<path d="M424.1,537.65H429.5L427.7,539.5H425.9Z" fill="#6c6c6c"/>
<line x1="437.8" y1="521.4" x2="437.8" y2="543.4" stroke="#6c6c6c" stroke-width="1.3"/>
<path d="M435.1,520.65H440.5L438.7,522.5H436.9Z" fill="#6c6c6c"/>
<path d="M421.3,580.8V559.7H432.3V580.8" fill="#fff" stroke="#636363" stroke-width="1.5"/>
<path d="M432.3,580.8V543.4H443.3V580.8" fill="#c2c2c2" stroke="#636363" stroke-width="1.5"/>
<text x="432.3" y="598.7" font-size="11.5" text-anchor="middle" fill="#1c1c1c">1 min</text>
<line x1="465" y1="546.5" x2="465" y2="560.1" stroke="#6c6c6c" stroke-width="1.3"/>
<path d="M462.3,545.75H467.7L465.9,547.6H464.1Z" fill="#6c6c6c"/>
<line x1="476" y1="531.8" x2="476" y2="545" stroke="#6c6c6c" stroke-width="1.3"/>
<path d="M473.3,531.05H478.7L476.9,532.9H475.1Z" fill="#6c6c6c"/>
<path d="M459.5,580.8V560.1H470.5V580.8" fill="#fff" stroke="#636363" stroke-width="1.5"/>
<path d="M470.5,580.8V545H481.5V580.8" fill="#c2c2c2" stroke="#636363" stroke-width="1.5"/>
<text x="470.5" y="598.7" font-size="11.5" text-anchor="middle" fill="#1c1c1c">5 min</text>
<line x1="503.2" y1="514.9" x2="503.2" y2="525.6" stroke="#6c6c6c" stroke-width="1.3"/>
<path d="M500.5,514.15H505.9L504.1,516H502.3Z" fill="#6c6c6c"/>
<line x1="514.2" y1="534.7" x2="514.2" y2="546" stroke="#6c6c6c" stroke-width="1.3"/>
<path d="M511.5,533.95H516.9L515.1,535.8H513.3Z" fill="#6c6c6c"/>
<path d="M497.7,580.8V525.6H508.7V580.8" fill="#fff" stroke="#636363" stroke-width="1.5"/>
<path d="M508.7,580.8V546H519.7V580.8" fill="#c2c2c2" stroke="#636363" stroke-width="1.5"/>
<text x="508.7" y="598.7" font-size="11.5" text-anchor="middle" fill="#1c1c1c">30 min</text>
<line x1="541.4" y1="483.9" x2="541.4" y2="494" stroke="#6c6c6c" stroke-width="1.3"/>
<path d="M538.7,483.15H544.1L542.3,485H540.5Z" fill="#6c6c6c"/>
<line x1="552.4" y1="544" x2="552.4" y2="553" stroke="#6c6c6c" stroke-width="1.3"/>
<path d="M549.7,543.25H555.1L553.3,545.1H551.5Z" fill="#6c6c6c"/>
<path d="M535.9,580.8V494H546.9V580.8" fill="#fff" stroke="#636363" stroke-width="1.5"/>
<path d="M546.9,580.8V553H557.9V580.8" fill="#c2c2c2" stroke="#636363" stroke-width="1.5"/>
<text x="546.9" y="598.7" font-size="11.5" text-anchor="middle" fill="#1c1c1c">1 h</text>
<line x1="579.6" y1="522.8" x2="579.6" y2="522.9" stroke="#6c6c6c" stroke-width="1.3"/>
<path d="M576.9,522.05H582.3L580.5,523.9H578.7Z" fill="#6c6c6c"/>
<line x1="590.6" y1="552.5" x2="590.6" y2="553" stroke="#6c6c6c" stroke-width="1.3"/>
<path d="M587.9,551.75H593.3L591.5,553.6H589.7Z" fill="#6c6c6c"/>
<path d="M574.1,580.8V522.9H585.1V580.8" fill="#fff" stroke="#636363" stroke-width="1.5"/>
<path d="M585.1,580.8V553H596.1V580.8" fill="#c2c2c2" stroke="#636363" stroke-width="1.5"/>
<text x="585.1" y="598.7" font-size="11.5" text-anchor="middle" fill="#1c1c1c">2 h</text>
<line x1="617.8" y1="522.5" x2="617.8" y2="542.4" stroke="#6c6c6c" stroke-width="1.3"/>
<path d="M615.1,521.75H620.5L618.7,523.6H616.9Z" fill="#6c6c6c"/>
<line x1="628.8" y1="516.9" x2="628.8" y2="536.7" stroke="#6c6c6c" stroke-width="1.3"/>
<path d="M626.1,516.15H631.5L629.7,518H627.9Z" fill="#6c6c6c"/>
<path d="M612.3,580.8V542.4H623.3V580.8" fill="#fff" stroke="#636363" stroke-width="1.5"/>
<path d="M623.3,580.8V536.7H634.3V580.8" fill="#c2c2c2" stroke="#636363" stroke-width="1.5"/>
<text x="623.3" y="598.7" font-size="11.5" text-anchor="middle" fill="#1c1c1c">6 h</text>
<line x1="656" y1="579.1" x2="656" y2="580.2" stroke="#6c6c6c" stroke-width="1.3"/>
<path d="M653.3,578.35H658.7L656.9,580.2H655.1Z" fill="#6c6c6c"/>
<line x1="667" y1="575.5" x2="667" y2="575.6" stroke="#6c6c6c" stroke-width="1.3"/>
<path d="M664.3,574.75H669.7L667.9,576.6H666.1Z" fill="#6c6c6c"/>
<path d="M650.5,580.8V580.2H661.5V580.8" fill="#fff" stroke="#636363" stroke-width="1.5"/>
<path d="M661.5,580.8V575.6H672.5V580.8" fill="#c2c2c2" stroke="#636363" stroke-width="1.5"/>
<text x="661.5" y="598.7" font-size="11.5" text-anchor="middle" fill="#1c1c1c">24 h</text>
<line x1="413.2" y1="428.5" x2="413.2" y2="580.8" stroke="#c4c4c4" stroke-width="1.3"/>
<line x1="410.2" y1="580.8" x2="680.6" y2="580.8" stroke="#c4c4c4" stroke-width="1.3"/>
<line x1="451.4" y1="580.8" x2="451.4" y2="583.3" stroke="#c4c4c4" stroke-width="1"/>
<line x1="489.6" y1="580.8" x2="489.6" y2="583.3" stroke="#c4c4c4" stroke-width="1"/>
<line x1="527.8" y1="580.8" x2="527.8" y2="583.3" stroke="#c4c4c4" stroke-width="1"/>
<line x1="566" y1="580.8" x2="566" y2="583.3" stroke="#c4c4c4" stroke-width="1"/>
<line x1="604.2" y1="580.8" x2="604.2" y2="583.3" stroke="#c4c4c4" stroke-width="1"/>
<line x1="642.4" y1="580.8" x2="642.4" y2="583.3" stroke="#c4c4c4" stroke-width="1"/>
<line x1="680.6" y1="580.8" x2="680.6" y2="583.3" stroke="#c4c4c4" stroke-width="1"/>
<text x="1.8" y="630.6" font-size="14.5" font-weight="bold" fill="#111">G</text>
<text x="167.2" y="639.6" font-size="13" font-weight="bold" text-anchor="middle" fill="#111">Thyroid</text>
<text transform="translate(26.6,706.2) rotate(-90)" font-size="12.5" font-weight="bold" text-anchor="middle" fill="#111">%ID / g</text>
<line x1="52.6" y1="781.5" x2="55.6" y2="781.5" stroke="#c4c4c4" stroke-width="1"/>
<text x="45.4" y="785.6" font-size="11.5" text-anchor="end" fill="#1c1c1c">0</text>
<line x1="52.6" y1="731.07" x2="55.6" y2="731.07" stroke="#c4c4c4" stroke-width="1"/>
<text x="45.4" y="735.17" font-size="11.5" text-anchor="end" fill="#1c1c1c">10</text>
<line x1="52.6" y1="680.63" x2="55.6" y2="680.63" stroke="#c4c4c4" stroke-width="1"/>
<text x="45.4" y="684.73" font-size="11.5" text-anchor="end" fill="#1c1c1c">20</text>
<line x1="52.6" y1="630.2" x2="55.6" y2="630.2" stroke="#c4c4c4" stroke-width="1"/>
<text x="45.4" y="634.3" font-size="11.5" text-anchor="end" fill="#1c1c1c">30</text>
<line x1="69.14" y1="748.2" x2="69.14" y2="763" stroke="#6c6c6c" stroke-width="1.3"/>
<path d="M66.44,747.45H71.84L70.04,749.3H68.24Z" fill="#6c6c6c"/>
<line x1="80.14" y1="760.7" x2="80.14" y2="768.5" stroke="#6c6c6c" stroke-width="1.3"/>
<path d="M77.44,759.95H82.84L81.04,761.8H79.24Z" fill="#6c6c6c"/>
<path d="M63.64,781.5V763H74.64V781.5" fill="#fff" stroke="#636363" stroke-width="1.5"/>
<path d="M74.64,781.5V768.5H85.64V781.5" fill="#c2c2c2" stroke="#636363" stroke-width="1.5"/>
<text x="74.64" y="799.4" font-size="11.5" text-anchor="middle" fill="#1c1c1c">1 min</text>
<line x1="107.22" y1="754.3" x2="107.22" y2="761" stroke="#6c6c6c" stroke-width="1.3"/>
<path d="M104.52,753.55H109.92L108.12,755.4H106.32Z" fill="#6c6c6c"/>
<line x1="118.22" y1="764.1" x2="118.22" y2="769.8" stroke="#6c6c6c" stroke-width="1.3"/>
<path d="M115.52,763.35H120.92L119.12,765.2H117.32Z" fill="#6c6c6c"/>
<path d="M101.72,781.5V761H112.72V781.5" fill="#fff" stroke="#636363" stroke-width="1.5"/>
<path d="M112.72,781.5V769.8H123.72V781.5" fill="#c2c2c2" stroke="#636363" stroke-width="1.5"/>
<text x="112.72" y="799.4" font-size="11.5" text-anchor="middle" fill="#1c1c1c">5 min</text>
<line x1="145.3" y1="715.1" x2="145.3" y2="736.9" stroke="#6c6c6c" stroke-width="1.3"/>
<path d="M142.6,714.35H148L146.2,716.2H144.4Z" fill="#6c6c6c"/>
<line x1="156.3" y1="746.4" x2="156.3" y2="753.4" stroke="#6c6c6c" stroke-width="1.3"/>
<path d="M153.6,745.65H159L157.2,747.5H155.4Z" fill="#6c6c6c"/>
<path d="M139.8,781.5V736.9H150.8V781.5" fill="#fff" stroke="#636363" stroke-width="1.5"/>
<path d="M150.8,781.5V753.4H161.8V781.5" fill="#c2c2c2" stroke="#636363" stroke-width="1.5"/>
<text x="150.8" y="799.4" font-size="11.5" text-anchor="middle" fill="#1c1c1c">30 min</text>
<line x1="183.38" y1="726.4" x2="183.38" y2="726.5" stroke="#6c6c6c" stroke-width="1.3"/>
<path d="M180.68,725.65H186.08L184.28,727.5H182.48Z" fill="#6c6c6c"/>
<line x1="194.38" y1="716.5" x2="194.38" y2="744.5" stroke="#6c6c6c" stroke-width="1.3"/>
<path d="M191.68,715.75H197.08L195.28,717.6H193.48Z" fill="#6c6c6c"/>
<path d="M177.88,781.5V726.5H188.88V781.5" fill="#fff" stroke="#636363" stroke-width="1.5"/>
<path d="M188.88,781.5V744.5H199.88V781.5" fill="#c2c2c2" stroke="#636363" stroke-width="1.5"/>
<text x="188.88" y="799.4" font-size="11.5" text-anchor="middle" fill="#1c1c1c">1 h</text>
<line x1="221.46" y1="699" x2="221.46" y2="712.7" stroke="#6c6c6c" stroke-width="1.3"/>
<path d="M218.76,698.25H224.16L222.36,700.1H220.56Z" fill="#6c6c6c"/>
<line x1="232.46" y1="703.8" x2="232.46" y2="717" stroke="#6c6c6c" stroke-width="1.3"/>
<path d="M229.76,703.05H235.16L233.36,704.9H231.56Z" fill="#6c6c6c"/>
<path d="M215.96,781.5V712.7H226.96V781.5" fill="#fff" stroke="#636363" stroke-width="1.5"/>
<path d="M226.96,781.5V717H237.96V781.5" fill="#c2c2c2" stroke="#636363" stroke-width="1.5"/>
<text x="226.96" y="799.4" font-size="11.5" text-anchor="middle" fill="#1c1c1c">2 h</text>
<line x1="259.54" y1="673.5" x2="259.54" y2="686.9" stroke="#6c6c6c" stroke-width="1.3"/>
<path d="M256.84,672.75H262.24L260.44,674.6H258.64Z" fill="#6c6c6c"/>
<line x1="270.54" y1="706.3" x2="270.54" y2="722.3" stroke="#6c6c6c" stroke-width="1.3"/>
<path d="M267.84,705.55H273.24L271.44,707.4H269.64Z" fill="#6c6c6c"/>
<path d="M254.04,781.5V686.9H265.04V781.5" fill="#fff" stroke="#636363" stroke-width="1.5"/>
<path d="M265.04,781.5V722.3H276.04V781.5" fill="#c2c2c2" stroke="#636363" stroke-width="1.5"/>
<text x="265.04" y="799.4" font-size="11.5" text-anchor="middle" fill="#1c1c1c">6 h</text>
<line x1="297.62" y1="683.9" x2="297.62" y2="702.3" stroke="#6c6c6c" stroke-width="1.3"/>
<path d="M294.92,683.15H300.32L298.52,685H296.72Z" fill="#6c6c6c"/>
<line x1="308.62" y1="652.5" x2="308.62" y2="711.9" stroke="#6c6c6c" stroke-width="1.3"/>
<path d="M305.92,651.75H311.32L309.52,653.6H307.72Z" fill="#6c6c6c"/>
<path d="M292.12,781.5V702.3H303.12V781.5" fill="#fff" stroke="#636363" stroke-width="1.5"/>
<path d="M303.12,781.5V711.9H314.12V781.5" fill="#c2c2c2" stroke="#636363" stroke-width="1.5"/>
<text x="303.12" y="799.4" font-size="11.5" text-anchor="middle" fill="#1c1c1c">24 h</text>
<line x1="55.6" y1="630.2" x2="55.6" y2="781.5" stroke="#c4c4c4" stroke-width="1.3"/>
<line x1="52.6" y1="781.5" x2="322.16" y2="781.5" stroke="#c4c4c4" stroke-width="1.3"/>
<line x1="93.68" y1="781.5" x2="93.68" y2="784" stroke="#c4c4c4" stroke-width="1"/>
<line x1="131.76" y1="781.5" x2="131.76" y2="784" stroke="#c4c4c4" stroke-width="1"/>
<line x1="169.84" y1="781.5" x2="169.84" y2="784" stroke="#c4c4c4" stroke-width="1"/>
<line x1="207.92" y1="781.5" x2="207.92" y2="784" stroke="#c4c4c4" stroke-width="1"/>
<line x1="246" y1="781.5" x2="246" y2="784" stroke="#c4c4c4" stroke-width="1"/>
<line x1="284.08" y1="781.5" x2="284.08" y2="784" stroke="#c4c4c4" stroke-width="1"/>
<line x1="322.16" y1="781.5" x2="322.16" y2="784" stroke="#c4c4c4" stroke-width="1"/>
<rect x="220.9" y="41.4" width="5.5" height="5.5" fill="#fff" stroke="#636363" stroke-width="1.1"/>
<rect x="220.9" y="60.4" width="5.5" height="5.5" fill="#c2c2c2" stroke="#636363" stroke-width="1.1"/>
<text x="229.8" y="47.8" font-size="11.3" fill="#1c1c1c">SET-M33L-PEG</text>
<text x="229.8" y="66.8" font-size="11.3" fill="#1c1c1c">SET-M33L</text>
<text x="362.8" y="618.7" font-size="14" font-weight="bold" fill="#111">H</text>
<line x1="415.3" y1="628.5" x2="415.3" y2="768.5" stroke="#222" stroke-width="1.1"/>
<line x1="415.3" y1="768.5" x2="647.5" y2="768.5" stroke="#1a1a1a" stroke-width="1.3"/>
<line x1="412.8" y1="768.5" x2="415.3" y2="768.5" stroke="#1a1a1a" stroke-width="1"/>
<line x1="412.8" y1="698.5" x2="415.3" y2="698.5" stroke="#1a1a1a" stroke-width="1"/>
<line x1="412.8" y1="628.5" x2="415.3" y2="628.5" stroke="#1a1a1a" stroke-width="1"/>
<line x1="413.8" y1="747.43" x2="415.3" y2="747.43" stroke="#333" stroke-width="0.8"/>
<line x1="413.8" y1="735.1" x2="415.3" y2="735.1" stroke="#333" stroke-width="0.8"/>
<line x1="413.8" y1="726.36" x2="415.3" y2="726.36" stroke="#333" stroke-width="0.8"/>
<line x1="413.8" y1="719.57" x2="415.3" y2="719.57" stroke="#333" stroke-width="0.8"/>
<line x1="413.8" y1="714.03" x2="415.3" y2="714.03" stroke="#333" stroke-width="0.8"/>
<line x1="413.8" y1="709.34" x2="415.3" y2="709.34" stroke="#333" stroke-width="0.8"/>
<line x1="413.8" y1="705.28" x2="415.3" y2="705.28" stroke="#333" stroke-width="0.8"/>
<line x1="413.8" y1="701.7" x2="415.3" y2="701.7" stroke="#333" stroke-width="0.8"/>
<line x1="413.8" y1="677.43" x2="415.3" y2="677.43" stroke="#333" stroke-width="0.8"/>
<line x1="413.8" y1="665.1" x2="415.3" y2="665.1" stroke="#333" stroke-width="0.8"/>
<line x1="413.8" y1="656.36" x2="415.3" y2="656.36" stroke="#333" stroke-width="0.8"/>
<line x1="413.8" y1="649.57" x2="415.3" y2="649.57" stroke="#333" stroke-width="0.8"/>
<line x1="413.8" y1="644.03" x2="415.3" y2="644.03" stroke="#333" stroke-width="0.8"/>
<line x1="413.8" y1="639.34" x2="415.3" y2="639.34" stroke="#333" stroke-width="0.8"/>
<line x1="413.8" y1="635.28" x2="415.3" y2="635.28" stroke="#333" stroke-width="0.8"/>
<line x1="413.8" y1="631.7" x2="415.3" y2="631.7" stroke="#333" stroke-width="0.8"/>
<text transform="translate(411.3,772.5) scale(0.88,1)" font-size="11" text-anchor="end" fill="#1c1c1c">1</text>
<text transform="translate(411.3,702.5) scale(0.88,1)" font-size="11" text-anchor="end" fill="#1c1c1c">10</text>
<text transform="translate(411.3,632.5) scale(0.88,1)" font-size="11" text-anchor="end" fill="#1c1c1c">100</text>
<line x1="415.3" y1="768.5" x2="415.3" y2="770.5" stroke="#1a1a1a" stroke-width="1"/>
<text transform="translate(415.3,782.3) scale(0.88,1)" font-size="11" text-anchor="middle" fill="#1c1c1c">0</text>
<line x1="492.7" y1="768.5" x2="492.7" y2="770.5" stroke="#1a1a1a" stroke-width="1"/>
<text transform="translate(492.7,782.3) scale(0.88,1)" font-size="11" text-anchor="middle" fill="#1c1c1c">50</text>
<line x1="570.1" y1="768.5" x2="570.1" y2="770.5" stroke="#1a1a1a" stroke-width="1"/>
<text transform="translate(570.1,782.3) scale(0.88,1)" font-size="11" text-anchor="middle" fill="#1c1c1c">100</text>
<line x1="647.5" y1="768.5" x2="647.5" y2="770.5" stroke="#1a1a1a" stroke-width="1"/>
<text transform="translate(647.5,782.3) scale(0.88,1)" font-size="11" text-anchor="middle" fill="#1c1c1c">150</text>
<text x="531.8" y="798.6" font-size="12" font-weight="bold" text-anchor="middle" fill="#111">Time (min)</text>
<text transform="translate(387.5,696.3) rotate(-90)" font-size="11" font-weight="bold" text-anchor="middle" fill="#111">%ID/g</text>
<path d="M415.3,681.94 C415.94,682.96 417.88,686.04 419.17,688.06 C420.46,690.08 421.75,692.09 423.04,694.07 C424.33,696.04 425.62,698 426.91,699.93 C428.2,701.86 429.49,703.76 430.78,705.63 C432.07,707.5 433.36,709.34 434.65,711.14 C435.94,712.93 437.23,714.7 438.52,716.42 C439.81,718.14 441.1,719.82 442.39,721.45 C443.68,723.08 444.97,724.67 446.26,726.2 C447.55,727.73 448.84,729.22 450.13,730.64 C451.42,732.07 452.71,733.44 454,734.75 C455.29,736.06 456.58,737.31 457.87,738.5 C459.16,739.69 460.45,740.83 461.74,741.9 C463.03,742.97 464.32,743.98 465.61,744.93 C466.9,745.88 468.19,746.77 469.48,747.61 C470.77,748.44 472.06,749.22 473.35,749.94 C474.64,750.67 475.93,751.33 477.22,751.96 C478.51,752.58 479.8,753.15 481.09,753.68 C482.38,754.21 483.67,754.69 484.96,755.14 C486.25,755.59 487.54,755.99 488.83,756.36 C490.12,756.74 491.41,757.07 492.7,757.38 C493.99,757.7 495.28,757.97 496.57,758.23 C497.86,758.49 499.15,758.72 500.44,758.93 C501.73,759.14 503.02,759.33 504.31,759.5 C505.6,759.67 506.89,759.83 508.18,759.97 C509.47,760.11 510.76,760.23 512.05,760.35 C513.34,760.47 514.63,760.57 515.92,760.66 C517.21,760.75 518.5,760.84 519.79,760.91 C521.08,760.99 522.37,761.05 523.66,761.11 C524.95,761.18 526.24,761.23 527.53,761.28 C528.82,761.33 530.11,761.37 531.4,761.41 C532.69,761.45 533.98,761.49 535.27,761.52 C536.56,761.55 537.85,761.58 539.14,761.6 C540.43,761.63 541.72,761.65 543.01,761.67 C544.3,761.7 545.59,761.71 546.88,761.73 C548.17,761.75 549.46,761.76 550.75,761.78 C552.04,761.79 553.33,761.8 554.62,761.81 C555.91,761.82 557.2,761.83 558.49,761.84 C559.78,761.85 561.07,761.86 562.36,761.86 C563.65,761.87 564.94,761.88 566.23,761.88 C567.52,761.89 568.81,761.89 570.1,761.9 C571.39,761.9 572.68,761.91 573.97,761.91 C575.26,761.91 576.55,761.92 577.84,761.92 C579.13,761.92 580.42,761.93 581.71,761.93 C583,761.93 584.29,761.93 585.58,761.93 C586.87,761.94 588.16,761.94 589.45,761.94 C590.74,761.94 592.03,761.94 593.32,761.94 C594.61,761.94 595.9,761.95 597.19,761.95 C598.48,761.95 599.77,761.95 601.06,761.95 C602.35,761.95 603.64,761.95 604.93,761.95 C606.22,761.95 607.51,761.95 608.8,761.95 C610.09,761.95 611.38,761.95 612.67,761.95 C613.96,761.96 615.25,761.96 616.54,761.96 C617.83,761.96 619.12,761.96 620.41,761.96 C621.7,761.96 622.99,761.96 624.28,761.96 C625.57,761.96 626.86,761.96 628.15,761.96 C629.44,761.96 630.73,761.96 632.02,761.96 C633.31,761.96 634.6,761.96 635.89,761.96 C637.18,761.96 638.47,761.96 639.76,761.96 C641.05,761.96 642.34,761.96 643.63,761.96 C644.92,761.96 646.86,761.96 647.5,761.96" fill="none" stroke="#2a2a2a" stroke-width="1.2"/>
<path d="M415.3,712 C415.63,712.43 416.52,713.55 417.3,714.6 C418.08,715.65 418.98,717.27 420,718.3 C421.02,719.33 422.23,720.2 423.4,720.8 C424.57,721.4 424.52,721.55 427,721.9 C429.48,722.25 435.25,722.53 438.3,722.9 C441.35,723.27 442.38,723.65 445.3,724.1 C448.22,724.55 452.95,725.15 455.8,725.6 C458.65,726.05 459.7,726.23 462.4,726.8 C465.1,727.37 468.23,728.17 472,729 C475.77,729.83 481.17,731.03 485,731.8 C488.83,732.57 491.08,732.78 495,733.6 C498.92,734.42 502.67,735.58 508.5,736.7 C514.33,737.82 522.25,739.03 530,740.3 C537.75,741.57 546.67,742.92 555,744.3 C563.33,745.68 572.25,747.27 580,748.6 C587.75,749.93 594,751.15 601.5,752.3 C609,753.45 617.33,754.55 625,755.5 C632.67,756.45 643.75,757.58 647.5,758" fill="none" stroke="#2a2a2a" stroke-width="1.2"/>
<ellipse cx="417.6" cy="683.8" rx="2.2" ry="1.8" fill="#fff" stroke="#111" stroke-width="1.1"/>
<line x1="416.3" y1="669.2" x2="416.3" y2="715" stroke="#1a1a1a" stroke-width="2.0"/>
<line x1="413.7" y1="669.2" x2="418.9" y2="669.2" stroke="#1a1a1a" stroke-width="1.1"/>
<line x1="413.7" y1="715" x2="418.9" y2="715" stroke="#1a1a1a" stroke-width="1.1"/>
<line x1="423.5" y1="684.6" x2="423.5" y2="704.4" stroke="#1a1a1a" stroke-width="1.2"/>
<line x1="420.9" y1="684.6" x2="426.1" y2="684.6" stroke="#1a1a1a" stroke-width="1.1"/>
<line x1="420.9" y1="704.4" x2="426.1" y2="704.4" stroke="#1a1a1a" stroke-width="1.1"/>
<line x1="423.5" y1="715.3" x2="423.5" y2="728.3" stroke="#1a1a1a" stroke-width="1.2"/>
<line x1="420.9" y1="715.3" x2="426.1" y2="715.3" stroke="#1a1a1a" stroke-width="1.1"/>
<line x1="420.9" y1="728.3" x2="426.1" y2="728.3" stroke="#1a1a1a" stroke-width="1.1"/>
<line x1="462.3" y1="718.4" x2="462.3" y2="737.1" stroke="#1a1a1a" stroke-width="1.2"/>
<line x1="459.7" y1="718.4" x2="464.9" y2="718.4" stroke="#1a1a1a" stroke-width="1.1"/>
<line x1="459.7" y1="737.1" x2="464.9" y2="737.1" stroke="#1a1a1a" stroke-width="1.1"/>
<line x1="462.3" y1="742.7" x2="462.3" y2="752.3" stroke="#1a1a1a" stroke-width="1.2"/>
<line x1="459.7" y1="742.7" x2="464.9" y2="742.7" stroke="#1a1a1a" stroke-width="1.1"/>
<line x1="459.7" y1="752.3" x2="464.9" y2="752.3" stroke="#1a1a1a" stroke-width="1.1"/>
<line x1="508.4" y1="748.2" x2="508.4" y2="763.1" stroke="#1a1a1a" stroke-width="1.2"/>
<line x1="505.8" y1="748.2" x2="511" y2="748.2" stroke="#1a1a1a" stroke-width="1.1"/>
<line x1="505.8" y1="763.1" x2="511" y2="763.1" stroke="#1a1a1a" stroke-width="1.1"/>
<ellipse cx="423.9" cy="692.2" rx="2.2" ry="1.8" fill="#fff" stroke="#111" stroke-width="1.1"/>
<ellipse cx="462.3" cy="747.1" rx="2.2" ry="1.8" fill="#fff" stroke="#111" stroke-width="1.1"/>
<ellipse cx="508.4" cy="754.5" rx="2.2" ry="1.8" fill="#fff" stroke="#111" stroke-width="1.1"/>
<rect x="599.4" y="760" width="4.2" height="4.2" fill="#ccc" stroke="#555" stroke-width="1"/>
<ellipse cx="647.8" cy="762.5" rx="2.2" ry="1.8" fill="#fff" stroke="#111" stroke-width="1.1"/>
<ellipse cx="417.2" cy="710.1" rx="2.6" ry="2.1" fill="#111" stroke="#111" stroke-width="0.6"/>
<ellipse cx="423.5" cy="721" rx="2.6" ry="2.1" fill="#111" stroke="#111" stroke-width="0.6"/>
<ellipse cx="462.3" cy="726.4" rx="2.6" ry="2.1" fill="#111" stroke="#111" stroke-width="0.6"/>
<rect x="506.2" y="734.9" width="4.6" height="5.4" fill="#111" stroke="#111" stroke-width="0.5"/>
<rect x="599.2" y="750.1" width="4.6" height="5.4" fill="#111" stroke="#111" stroke-width="0.5"/>
<ellipse cx="647.8" cy="758.3" rx="2.6" ry="2.1" fill="#111" stroke="#111" stroke-width="0.6"/>
<line x1="513.1" y1="650.5" x2="523.4" y2="650.5" stroke="#1a1a1a" stroke-width="1.1"/>
<ellipse cx="518.2" cy="650.5" rx="2.2" ry="1.8" fill="#fff" stroke="#111" stroke-width="1.1"/>
<line x1="513.1" y1="665.6" x2="523.4" y2="665.6" stroke="#1a1a1a" stroke-width="1.1"/>
<ellipse cx="518.2" cy="665.6" rx="2.6" ry="2.1" fill="#111" stroke="#111" stroke-width="0.6"/>
<text x="530.4" y="653.9" font-size="12.4" fill="#1c1c1c">SET-M33L</text>
<text x="530.4" y="669.4" font-size="12.4" fill="#1c1c1c">SET-M33L-PEG</text>
</svg>
</body></html>
